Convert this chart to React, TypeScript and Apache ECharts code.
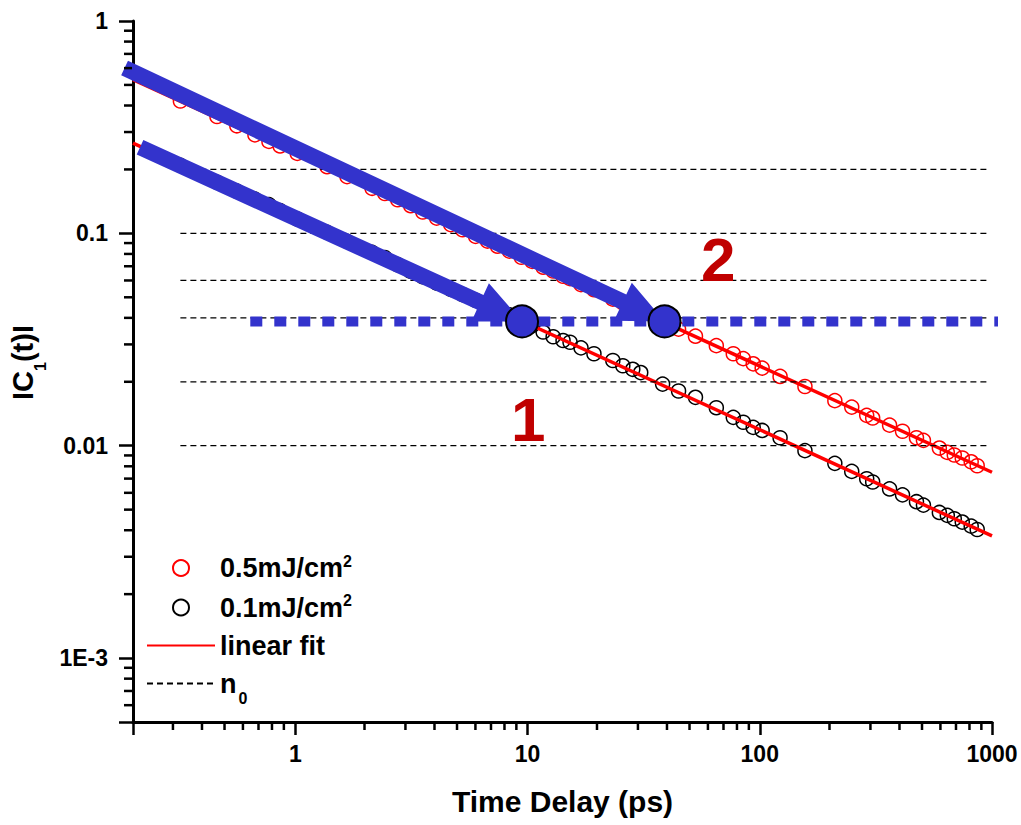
import React, { useEffect, useRef } from 'react';
import * as echarts from 'echarts';

// ---- data ----
const delays = [0.32, 0.46, 0.56, 0.67, 0.77, 0.86, 1.02, 1.37, 1.67, 2.14, 2.43, 2.76, 3.14, 3.54, 4.06, 4.67, 5.25, 5.97, 6.72, 7.42, 8.35, 9.4, 10.47, 11.67, 12.89, 14.22, 15.24, 16.99, 19.32, 23.3, 25.72, 28.39, 30.72, 38.16, 44.7, 52.86, 65.0, 76.9, 84.9, 93.7, 102.4, 122.3, 156.5, 210.5, 248.9, 288.7, 306.3, 362.2, 411.8, 472.9, 506.7, 593.3, 642, 688, 744.6, 813.6, 863.5];
const fluence05 = [0.42, 0.355, 0.321, 0.291, 0.271, 0.258, 0.238, 0.206, 0.185, 0.163, 0.154, 0.144, 0.135, 0.126, 0.118, 0.110, 0.104, 0.0968, 0.0920, 0.0870, 0.0825, 0.0772, 0.0738, 0.0693, 0.0665, 0.0628, 0.0612, 0.0574, 0.0543, 0.0490, 0.0471, 0.0444, 0.0431, 0.0386, 0.0354, 0.0328, 0.0296, 0.0271, 0.0257, 0.0243, 0.0232, 0.0212, 0.0190, 0.0163, 0.0152, 0.0139, 0.0135, 0.0125, 0.0117, 0.0109, 0.0106, 0.00975, 0.0093, 0.00904, 0.00875, 0.0084, 0.00805];
const fluence01 = [0.209, 0.174, 0.158, 0.145, 0.1365, 0.128, 0.1168, 0.1011, 0.0917, 0.0813, 0.0770, 0.0712, 0.0662, 0.0625, 0.0583, 0.0545, 0.0515, 0.0484, 0.0458, 0.0437, 0.0413, 0.0390, 0.0368, 0.0343, 0.0326, 0.0313, 0.0307, 0.0289, 0.0271, 0.0252, 0.0238, 0.0229, 0.0221, 0.0195, 0.0181, 0.0169, 0.0151, 0.0136, 0.0129, 0.0122, 0.0118, 0.0109, 0.00948, 0.00826, 0.00757, 0.00699, 0.00675, 0.00626, 0.00587, 0.00545, 0.00525, 0.00485, 0.0047, 0.00453, 0.00437, 0.00418, 0.00403];

const fitX = [0.2, 1000];
const fit05 = [0.53, 0.0075];
const fit01 = [0.266, 0.00376];

const n0Levels = [0.2, 0.1, 0.06, 0.04, 0.02, 0.01];
const n0Range = [0.32, 970];

const crossLevel = 0.0385;
const crossRange = [0.64, 1127];
const crossPoints = [9.47, 38.9];

const arrowStarts = [[0.184, 0.6], [0.2145, 0.2544]];
const arrowEnds = [[38.9, 0.0385], [9.47, 0.0385]];

const markerLabels = ['1', '2'];
const markerPos = [[10.07, 0.01326], [66.3, 0.075]];

const X_MIN = 0.2;
const X_MAX = 1000;
const Y_MIN = 0.0005;
const Y_MAX = 1;
const xMinor = [0.3, 0.4, 0.5, 0.6, 0.7, 0.8, 0.9, 2, 3, 4, 5, 6, 7, 8, 9, 20, 30, 40, 50, 60, 70, 80, 90, 200, 300, 400, 500, 600, 700, 800, 900];
const yMinor = [0.0006, 0.0007, 0.0008, 0.0009, 0.002, 0.003, 0.004, 0.005, 0.006, 0.007, 0.008, 0.009, 0.02, 0.03, 0.04, 0.05, 0.06, 0.07, 0.08, 0.09, 0.2, 0.3, 0.4, 0.5, 0.6, 0.7, 0.8, 0.9];

const legendNames = ['0.5mJ/cm2', '0.1mJ/cm2', 'linear fit', 'n0'];
const legendRich: Record<string, string> = {
  '0.5mJ/cm2': '{t|0.5mJ/cm}{sup|2}',
  '0.1mJ/cm2': '{t|0.1mJ/cm}{sup|2}',
  'linear fit': '{t|linear fit}',
  'n0': '{t|n}{sub|0}',
};

const FONT = '"Liberation Sans", Arial, sans-serif';
const BLUE = '#3333CC';
const MINOR_LEN = 8;
const TICK_W = 2.5;
const W = 1021;
const H = 825;
const GRID = { left: 132, right: 29, top: 21, bottom: 103 };

const isDecade = (v: number) => Math.abs(Math.log10(v) - Math.round(Math.log10(v))) < 1e-6;

export default function App() {
  const ref = useRef<HTMLDivElement>(null);
  useEffect(() => {
    if (!ref.current) return;
    const chart = echarts.init(ref.current, undefined, { renderer: 'svg' });

    const n0Series = n0Levels.map((lv) => ({
      type: 'line',
      name: 'n0',
      data: [[n0Range[0], lv], [n0Range[1], lv]],
      symbol: 'none',
      z: 3,
      lineStyle: { color: '#000', width: 1.3, type: [6, 4] },
      itemStyle: { color: '#000' },
      silent: true,
    }));

    // minor ticks (2..9 per decade) on the same log mapping as the grid axes
    const plotW = W - GRID.left - GRID.right;
    const plotH = H - GRID.top - GRID.bottom;
    const xPx = (v: number) => GRID.left + (Math.log10(v / X_MIN) / Math.log10(X_MAX / X_MIN)) * plotW;
    const yPx = (v: number) => GRID.top + (Math.log10(Y_MAX / v) / Math.log10(Y_MAX / Y_MIN)) * plotH;
    const axisY = H - GRID.bottom;
    const axisX = GRID.left;
    const minorTickEls = [
      ...xMinor.map((v) => ({
        type: 'rect',
        silent: true,
        z: 100,
        shape: { x: xPx(v) - TICK_W / 2, y: axisY, width: TICK_W, height: MINOR_LEN },
        style: { fill: '#000' },
      })),
      ...yMinor.map((v) => ({
        type: 'rect',
        silent: true,
        z: 100,
        shape: { x: axisX - MINOR_LEN, y: yPx(v) - TICK_W / 2, width: MINOR_LEN, height: TICK_W },
        style: { fill: '#000' },
      })),
    ];

    const hiddenDot = { color: 'rgba(0,0,0,0)', borderColor: 'rgba(0,0,0,0)', borderWidth: 0 };

    const option: any = {
      animation: false,
      textStyle: { fontFamily: FONT },
      grid: { ...GRID, containLabel: false },
      graphic: { elements: minorTickEls },
      legend: {
        data: [
          { name: legendNames[0] },
          { name: legendNames[1] },
          { name: legendNames[2], itemStyle: hiddenDot },
          { name: legendNames[3], itemStyle: hiddenDot },
        ],
        orient: 'vertical',
        left: 141,
        top: 548,
        itemWidth: 68,
        itemHeight: 16,
        itemGap: 11,
        formatter: (name: string) => legendRich[name],
        textStyle: {
          fontFamily: FONT,
          rich: {
            t: { fontSize: 27, fontWeight: 'bold', color: '#000', fontFamily: FONT, lineHeight: 30 },
            sup: { fontSize: 16, fontWeight: 'bold', color: '#000', fontFamily: FONT, verticalAlign: 'top', lineHeight: 10 },
            sub: { fontSize: 16, fontWeight: 'bold', color: '#000', fontFamily: FONT, verticalAlign: 'bottom', lineHeight: 10, padding: [0, 0, -8, 2] },
          },
        },
      },
      xAxis: {
        type: 'log',
        logBase: 10,
        min: X_MIN,
        max: X_MAX,
        position: 'bottom',
        splitLine: { show: false },
        name: 'Time Delay (ps)',
        nameLocation: 'middle',
        nameGap: 64,
        nameTextStyle: { fontSize: 30, fontWeight: 'bold', color: '#000', fontFamily: FONT },
        axisLine: { show: true, onZero: false, lineStyle: { color: '#000', width: 3 } },
        axisTick: { show: true, length: 13, lineStyle: { color: '#000', width: TICK_W } },
        minorTick: { show: false },
        axisLabel: {
          show: true,
          margin: 20,
          fontSize: 23,
          fontWeight: 'bold',
          color: '#000',
          fontFamily: FONT,
          formatter: (v: number) => (isDecade(v) ? String(Math.round(v)) : ''),
        },
      },
      yAxis: {
        type: 'log',
        logBase: 10,
        min: Y_MIN,
        max: Y_MAX,
        position: 'left',
        splitLine: { show: false },
        name: '{a|IC}{s|1}{a|(t)I}',
        nameLocation: 'middle',
        nameGap: 86,
        nameTextStyle: {
          fontFamily: FONT,
          padding: [0, 0, 0, 18],
          rich: {
            a: { fontSize: 29, fontWeight: 'bold', color: '#000', fontFamily: FONT, lineHeight: 32 },
            s: { fontSize: 16, fontWeight: 'bold', color: '#000', fontFamily: FONT, verticalAlign: 'bottom', lineHeight: 10, padding: [0, 0, -10, 0] },
          },
        },
        axisLine: { show: true, onZero: false, lineStyle: { color: '#000', width: 3 } },
        axisTick: { show: true, length: 14, lineStyle: { color: '#000', width: TICK_W } },
        minorTick: { show: false },
        axisLabel: {
          show: true,
          margin: 25,
          fontSize: 23,
          fontWeight: 'bold',
          color: '#000',
          fontFamily: FONT,
          formatter: (v: number) => (!isDecade(v) ? '' : v < 0.005 ? '1E-3' : String(+v.toPrecision(3))),
        },
      },
      series: [
        {
          type: 'scatter',
          name: '0.5mJ/cm2',
          data: delays.map((d, i) => [d, fluence05[i]]),
          symbol: 'circle',
          symbolSize: 14,
          z: 2,
          itemStyle: { color: 'rgba(0,0,0,0)', borderColor: '#FF0000', borderWidth: 1.5, opacity: 1 },
        },
        {
          type: 'scatter',
          name: '0.1mJ/cm2',
          data: delays.map((d, i) => [d, fluence01[i]]),
          symbol: 'circle',
          symbolSize: 14,
          z: 2,
          itemStyle: { color: 'rgba(0,0,0,0)', borderColor: '#000000', borderWidth: 1.5, opacity: 1 },
        },
        {
          type: 'line',
          name: 'linear fit',
          data: fitX.map((x, i) => [x, fit05[i]]),
          symbol: 'none',
          z: 3,
          lineStyle: { color: '#FF0000', width: 3.5 },
          itemStyle: { color: '#FF0000' },
        },
        {
          type: 'line',
          name: 'linear fit',
          data: fitX.map((x, i) => [x, fit01[i]]),
          symbol: 'none',
          z: 3,
          lineStyle: { color: '#FF0000', width: 3.5 },
          itemStyle: { color: '#FF0000' },
        },
        ...n0Series,
        {
          type: 'line',
          name: 'crossing',
          data: crossRange.map((x) => [x, crossLevel]),
          symbol: 'none',
          clip: false,
          z: 4,
          lineStyle: { color: BLUE, width: 10, type: [12, 12], cap: 'butt' },
          silent: true,
        },
        {
          type: 'custom',
          name: 'arrows',
          clip: false,
          z: 5,
          data: arrowStarts.map((s, i) => [s[0], s[1], arrowEnds[i][0], arrowEnds[i][1]]),
          encode: { x: [0, 2], y: [1, 3] },
          silent: true,
          renderItem: (params: any, api: any) => {
            const a = api.coord([api.value(0), api.value(1)]);
            const b = api.coord([api.value(2), api.value(3)]);
            const dx = b[0] - a[0];
            const dy = b[1] - a[1];
            const len = Math.hypot(dx, dy);
            const ux = dx / len;
            const uy = dy / len;
            const nx = -uy;
            const ny = ux;
            const headLen = 46;
            const headHalf = 21;
            const sh = 8;
            const bx = b[0] - ux * headLen;
            const by = b[1] - uy * headLen;
            const points = [
              [a[0] + nx * sh, a[1] + ny * sh],
              [bx + nx * sh, by + ny * sh],
              [bx + nx * headHalf, by + ny * headHalf],
              [b[0], b[1]],
              [bx - nx * headHalf, by - ny * headHalf],
              [bx - nx * sh, by - ny * sh],
              [a[0] - nx * sh, a[1] - ny * sh],
            ];
            return { type: 'polygon', shape: { points }, style: { fill: BLUE } };
          },
        },
        {
          type: 'scatter',
          name: 'crossPoints',
          data: crossPoints.map((x) => [x, crossLevel]),
          symbol: 'circle',
          symbolSize: 32,
          clip: false,
          z: 6,
          silent: true,
          itemStyle: { color: BLUE, borderColor: '#000', borderWidth: 2, opacity: 1 },
        },
        {
          type: 'scatter',
          name: 'markers',
          data: markerLabels.map((l, i) => ({ name: l, value: markerPos[i] })),
          symbolSize: 1,
          z: 7,
          silent: true,
          itemStyle: { color: 'rgba(0,0,0,0)', opacity: 1 },
          label: {
            show: true,
            position: 'inside',
            formatter: '{b}',
            fontSize: 62,
            fontWeight: 'bold',
            color: '#C00000',
            opacity: 1,
            fontFamily: FONT,
          },
        },
      ],
    };

    chart.setOption(option);

    return () => {
      chart.dispose();
    };
  }, []);

  return (
    <div
      ref={ref}
      style={{ position: 'fixed', left: 0, top: 0, width: W, height: H, background: '#fff' }}
    />
  );
}
